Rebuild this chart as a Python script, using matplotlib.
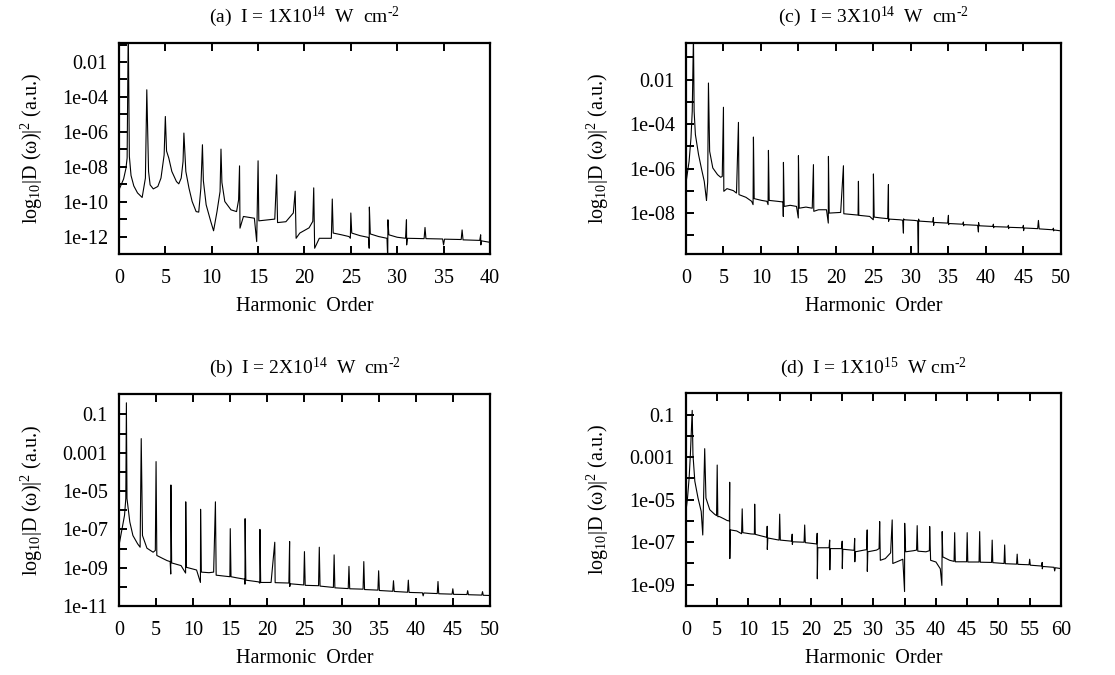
import matplotlib
matplotlib.use('Agg')
import numpy as np
import matplotlib.pyplot as plt
from matplotlib.ticker import FixedLocator, NullFormatter

plt.rcParams['font.family'] = ['Liberation Serif', 'DejaVu Serif']
plt.rcParams['mathtext.fontset'] = 'custom'
plt.rcParams['mathtext.rm'] = 'Liberation Serif'
plt.rcParams['mathtext.it'] = 'Liberation Serif:italic'
plt.rcParams['font.size'] = 14

# spectra: (harmonic order, log10 |D(w)|^2)
spec_a = [(0, -9.32), (0.23, -9.04), (0.5, -8.7), (0.75, -8.1), (0.88, -7.5), (1.0, 0.0),
          (1.12, -7.4), (1.3, -8.5), (1.6, -9.1), (2.0, -9.5), (2.5, -9.76), (2.85, -8.65),
          (3.0, -3.59), (3.19, -8.27), (3.36, -9.04), (3.7, -9.27), (4.19, -9.13), (4.53, -8.65),
          (4.87, -7.32), (5.0, -5.12), (5.13, -7.1), (5.37, -7.5), (5.7, -8.27), (6.2, -8.85),
          (6.45, -8.98), (6.71, -8.65), (6.91, -7.7), (7.0, -6.07), (7.21, -8.27), (7.55, -9.23),
          (7.89, -9.99), (8.32, -10.57), (8.6, -10.6), (8.83, -9.23), (9.0, -6.74), (9.1, -8.8),
          (9.4, -10.18), (9.9, -11.14), (10.2, -11.67), (10.57, -10.57), (10.9, -9.42), (11.0, -6.99),
          (11.1, -8.9), (11.41, -9.99), (12.08, -10.47), (12.68, -10.57), (12.9, -9.9), (13.0, -7.95),
          (13.05, -11.52), (13.42, -10.85), (14.6, -10.95), (14.85, -12.29), (15.0, -7.66),
          (15.08, -11.1), (16.8, -11.0), (17.0, -8.46), (17.1, -11.2), (18.0, -11.15), (18.8, -10.65),
          (19.0, -9.4), (19.1, -12.1), (19.5, -11.8), (20.5, -11.5), (20.9, -11.13), (21.0, -9.21),
          (21.1, -12.67), (21.6, -12.1), (22.9, -12.1), (23.0, -9.85), (23.1, -11.8), (24.0, -11.9),
          (24.8, -12.0), (24.95, -12.1), (25.0, -10.65), (25.1, -11.8), (26.0, -11.95), (26.9, -12.05),
          (26.98, -12.67), (27.0, -10.31), (27.1, -11.85), (28.0, -12.0), (28.9, -12.1),
          (28.98, -13.3), (29.0, -11.04), (29.1, -11.9), (30.0, -12.04), (30.9, -12.1), (31.0, -11.04),
          (31.02, -12.48), (31.1, -12.1), (32.9, -12.12), (33.0, -11.48), (33.1, -12.12),
          (34.9, -12.14), (35.0, -12.48), (35.1, -12.15), (36.9, -12.17), (37.0, -11.62),
          (37.1, -12.19), (38.9, -12.22), (39.0, -11.9), (39.02, -12.48), (39.1, -12.25), (40.0, -12.33)]

spec_b = [(0, -7.84), (0.42, -6.96), (0.75, -6.26), (0.92, -5.39), (1.0, -0.39), (1.08, -5.39),
          (1.46, -6.61), (1.88, -7.32), (2.51, -7.75), (2.85, -7.93), (3.0, -2.26), (3.17, -7.32),
          (3.77, -7.98), (4.6, -8.19), (4.9, -8.1), (5.0, -3.46), (5.1, -8.36), (5.86, -8.51),
          (6.49, -8.63), (6.9, -8.68), (6.98, -9.33), (7.0, -4.68), (7.1, -8.75), (8.37, -8.89),
          (8.98, -9.28), (9.0, -5.56), (9.1, -8.98), (10.46, -9.12), (10.98, -9.77), (11.0, -5.95),
          (11.1, -9.23), (12.13, -9.26), (12.76, -9.23), (13.0, -5.56), (13.1, -9.39), (14.23, -9.44),
          (14.95, -9.47), (15.0, -6.96), (15.1, -9.47), (15.9, -9.53), (16.95, -9.6), (16.98, -9.86),
          (17.0, -6.44), (17.1, -9.65), (18.83, -9.74), (18.98, -9.81), (19.0, -7.0), (19.1, -9.77),
          (20.5, -9.77), (21.0, -7.67), (21.05, -9.78), (22.9, -9.8), (23.0, -7.63), (23.02, -9.98),
          (23.1, -9.84), (24.9, -9.9), (25.0, -8.16), (25.1, -9.92), (26.9, -9.94), (27.0, -7.93),
          (27.1, -9.96), (28.9, -10.03), (29.0, -8.33), (29.1, -10.05), (30.9, -10.09), (31.0, -8.93),
          (31.1, -10.1), (32.9, -10.12), (33.0, -8.68), (33.1, -10.14), (34.9, -10.17), (35.0, -9.16),
          (35.1, -10.19), (36.9, -10.23), (37.0, -9.68), (37.1, -10.24), (38.9, -10.28), (39.0, -9.65),
          (39.1, -10.29), (40.9, -10.31), (41.0, -10.47), (41.1, -10.32), (42.9, -10.35),
          (43.0, -9.72), (43.1, -10.36), (44.9, -10.38), (45.0, -10.1), (45.1, -10.39),
          (46.9, -10.4), (47.0, -10.2), (47.1, -10.41), (48.9, -10.43), (49.0, -10.25),
          (49.1, -10.44), (50.0, -10.45)]

spec_c = [(0, -6.65), (0.42, -5.67), (0.67, -4.62), (0.84, -3.42), (1.0, 0.0), (1.09, -3.42),
          (1.26, -4.47), (1.68, -5.37), (2.1, -6.05), (2.44, -6.57), (2.65, -7.17), (2.74, -7.43),
          (2.9, -6.6), (3.0, -2.15), (3.16, -5.22), (3.58, -5.97), (4.21, -6.27), (4.63, -6.39),
          (4.84, -6.35), (5.0, -3.24), (5.05, -7.02), (5.47, -6.9), (6.32, -6.99), (6.74, -7.1),
          (7.0, -3.92), (7.07, -7.17), (8.0, -7.29), (8.76, -7.47), (8.95, -7.62), (9.0, -4.58),
          (9.1, -7.35), (10.1, -7.43), (10.8, -7.47), (10.95, -7.62), (11.0, -5.18), (11.1, -7.43),
          (12.2, -7.47), (12.95, -7.5), (12.98, -8.15), (13.0, -5.72), (13.1, -7.7), (13.9, -7.65),
          (14.74, -7.7), (14.98, -8.22), (15.0, -5.42), (15.1, -7.78), (16.0, -7.73), (16.84, -7.78),
          (17.0, -5.82), (17.05, -7.92), (17.68, -7.85), (18.74, -7.85), (18.98, -8.45), (19.0, -5.45),
          (19.1, -8.0), (20.63, -7.97), (21.0, -5.87), (21.05, -8.03), (22.95, -8.09), (23.0, -6.57),
          (23.05, -8.1), (24.5, -8.15), (24.98, -8.3), (25.0, -6.24), (25.1, -8.18), (26.0, -8.22),
          (26.9, -8.25), (27.0, -6.72), (27.02, -8.37), (27.1, -8.27), (28.5, -8.3), (28.9, -8.32),
          (29.0, -8.9), (29.02, -8.26), (29.1, -8.3), (30.5, -8.33), (30.9, -8.35), (31.0, -10.5),
          (31.02, -8.27), (31.1, -8.36), (32.9, -8.4), (33.0, -8.2), (33.02, -8.55), (33.1, -8.42),
          (34.9, -8.45), (35.0, -8.1), (35.02, -8.52), (35.1, -8.47), (36.9, -8.5), (37.0, -8.4),
          (37.02, -8.57), (37.1, -8.52), (38.9, -8.55), (39.0, -8.85), (39.02, -8.43), (39.1, -8.57),
          (40.9, -8.6), (41.0, -8.5), (41.02, -8.66), (41.1, -8.61), (42.9, -8.63), (43.0, -8.55),
          (43.02, -8.7), (43.1, -8.64), (44.9, -8.66), (45.0, -8.55), (45.02, -8.79), (45.1, -8.67),
          (46.9, -8.7), (47.0, -8.33), (47.1, -8.71), (48.9, -8.75), (49.0, -8.68), (49.02, -8.8),
          (49.1, -8.76), (50.0, -8.8)]

spec_d = [(0, -5.55), (0.25, -4.92), (0.51, -3.97), (0.71, -2.87), (1.0, -0.8), (1.12, -2.87),
          (1.42, -4.13), (1.93, -4.92), (2.44, -5.55), (2.69, -6.66), (3.0, -2.6), (3.2, -4.92),
          (3.81, -5.47), (4.57, -5.68), (4.9, -5.75), (5.0, -3.37), (5.1, -5.8), (5.33, -5.79),
          (6.09, -5.9), (6.6, -5.98), (6.95, -6.0), (7.0, -4.18), (7.02, -7.77), (7.1, -6.42),
          (8.12, -6.47), (8.9, -6.6), (9.0, -5.43), (9.1, -6.55), (10.4, -6.61), (10.95, -6.62),
          (11.0, -5.21), (11.1, -6.63), (12.0, -6.7), (12.95, -6.77), (13.0, -6.25), (13.02, -7.34),
          (13.1, -6.8), (14.9, -6.9), (15.0, -5.68), (15.1, -6.9), (16.9, -6.95), (17.0, -6.62),
          (17.02, -7.1), (17.1, -6.98), (18.9, -7.0), (19.0, -6.19), (19.1, -7.02), (20.9, -7.08),
          (21.0, -6.58), (21.02, -8.72), (21.1, -7.26), (22.9, -7.26), (23.0, -6.9), (23.02, -8.3),
          (23.1, -7.3), (24.9, -7.3), (25.0, -6.95), (25.02, -8.24), (25.1, -7.33), (26.9, -7.38),
          (27.0, -6.82), (27.02, -7.92), (27.1, -7.45), (28.5, -7.37), (28.9, -7.35), (29.0, -6.42),
          (29.02, -8.37), (29.1, -7.45), (30.5, -7.37), (30.9, -7.3), (31.0, -6.03), (31.1, -7.85),
          (31.9, -7.77), (32.75, -7.5), (33.0, -5.95), (33.1, -8.0), (34.0, -7.89), (34.7, -7.8),
          (34.98, -9.32), (35.0, -6.11), (35.15, -7.45), (36.4, -7.4), (36.9, -7.37), (37.0, -6.22),
          (37.1, -7.42), (38.4, -7.45), (38.95, -7.4), (39.0, -6.26), (39.15, -7.85), (40.0, -7.93),
          (40.7, -8.25), (40.95, -9.03), (41.0, -6.5), (41.1, -7.69), (42.2, -7.85), (42.9, -7.9),
          (43.0, -6.55), (43.1, -7.92), (44.9, -7.92), (45.0, -6.55), (45.1, -7.93), (46.9, -7.93),
          (47.0, -6.5), (47.1, -7.94), (48.9, -7.95), (49.0, -6.9), (49.1, -7.96), (50.9, -8.0),
          (51.0, -7.13), (51.1, -8.01), (52.9, -8.03), (53.0, -7.56), (53.1, -8.04), (54.9, -8.06),
          (55.0, -7.8), (55.1, -8.08), (56.9, -8.12), (57.0, -7.95), (57.02, -8.25), (57.1, -8.14),
          (58.9, -8.18), (59.0, -8.35), (59.1, -8.2), (60.0, -8.24)]

titles = [r'(a)  I = 1X10$^{14}$  W  cm$^{\text{-2}}$', r'(c)  I = 3X10$^{14}$  W  cm$^{\text{-2}}$',
          r'(b)  I = 2X10$^{14}$  W  cm$^{\text{-2}}$', r'(d)  I = 1X10$^{15}$  W cm$^{\text{-2}}$']

xmax = [40, 50, 50, 60]
ylims = [(1e-13, 10**-0.91), (10**-9.84, 10**-0.35), (1e-11, 10**0.07), (1e-10, 1.0)]
ymajor = [[1e-2, 1e-4, 1e-6, 1e-8, 1e-10, 1e-12],
          [1e-2, 1e-4, 1e-6, 1e-8],
          [1e-1, 1e-3, 1e-5, 1e-7, 1e-9, 1e-11],
          [1e-1, 1e-3, 1e-5, 1e-7, 1e-9]]
ylabels = [['0.01', '1e-04', '1e-06', '1e-08', '1e-10', '1e-12'],
           ['0.01', '1e-04', '1e-06', '1e-08'],
           ['0.1', '0.001', '1e-05', '1e-07', '1e-09', '1e-11'],
           ['0.1', '0.001', '1e-05', '1e-07', '1e-09']]
yminor = [[1e-1, 1e-3, 1e-5, 1e-7, 1e-9, 1e-11, 1e-13],
          [1e-1, 1e-3, 1e-5, 1e-7, 1e-9],
          [1e-2, 1e-4, 1e-6, 1e-8, 1e-10],
          [1e-2, 1e-4, 1e-6, 1e-8]]

rects = [[0.1067, 0.6237, 0.3327, 0.3126], [0.6152, 0.6237, 0.3363, 0.3126],
         [0.1067, 0.1022, 0.3327, 0.3141], [0.6152, 0.1022, 0.3363, 0.3150]]

fig = plt.figure(figsize=(11.15, 6.75), dpi=100)

for i, spec in enumerate([spec_a, spec_c, spec_b, spec_d]):
    ax = fig.add_axes(rects[i])
    x = np.array([p[0] for p in spec])
    y = 10 ** np.array([p[1] for p in spec])
    ax.semilogy(x, y, color='black', lw=0.8)
    ax.set_xlim(0, xmax[i])
    ax.set_ylim(*ylims[i])
    ax.set_xticks(np.arange(0, xmax[i] + 1, 5))
    ax.yaxis.set_major_locator(FixedLocator(ymajor[i]))
    ax.set_yticklabels(ylabels[i])
    ax.yaxis.set_minor_locator(FixedLocator(yminor[i]))
    ax.yaxis.set_minor_formatter(NullFormatter())
    ax.tick_params(which='both', direction='in', top=True, right=False,
                   length=6, width=1.4, labelsize=14.5)
    ax.tick_params(axis='x', pad=11)
    ax.tick_params(axis='y', pad=8)
    for s in ax.spines.values():
        s.set_linewidth(1.6)
    ax.set_title(titles[i], fontsize=14, pad=15)
    ax.set_xlabel('Harmonic  Order', fontsize=14.5, labelpad=6)
    ax.set_ylabel(r'log$_{10}$|D (ω)|$^{2}$ (a.u.)', fontsize=14.5)
    ax.yaxis.set_label_coords(-0.20, 0.5)

fig.savefig('out.png', dpi=100)
